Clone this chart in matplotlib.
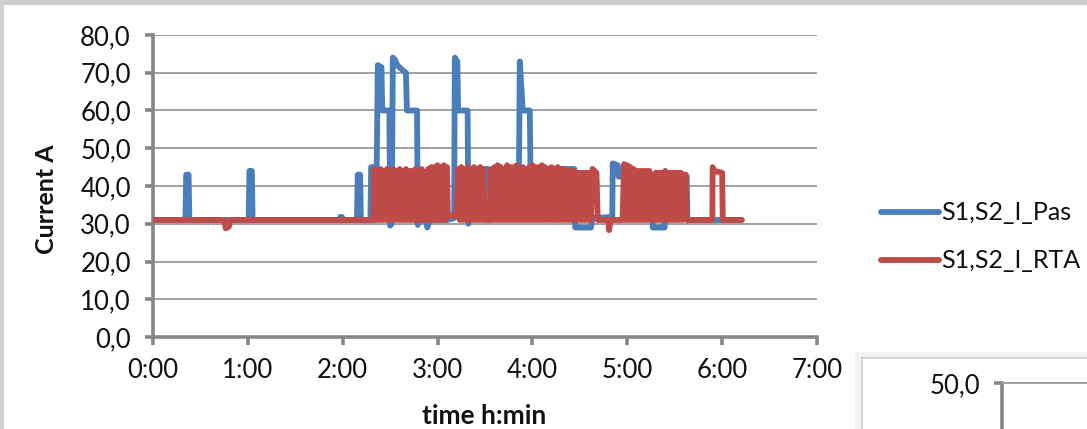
import matplotlib
matplotlib.use('Agg')
import matplotlib.pyplot as plt
from matplotlib.patches import Rectangle
from matplotlib.ticker import FuncFormatter

plt.rcParams['font.family'] = ['Lato', 'DejaVu Sans']

# time in minutes since start, current in A
pas_min = [0, 20.5, 21, 22.5, 23, 60.5, 61, 62.5, 63, 118,
           118.5, 119.5, 120, 129, 129.5, 131, 131.5, 137.5, 138, 141.5,
           142.2, 144.5, 145, 149.5, 150, 151, 151.7, 153, 154.5, 157,
           160, 160.6, 167, 167.5, 169, 172.5, 173.5, 175, 186, 190.5,
           190.9, 192.5, 193, 199, 199.5, 200.4, 212, 212.5, 214.5, 215,
           231.5, 232, 233.9, 238.3, 238.8, 266.5, 267, 277, 278, 290.5,
           290.8, 294, 294.5, 315.8, 316.1, 323.7, 324, 337.6, 338, 372.4]
pas_amp = [31, 31, 43, 43, 31, 31, 44, 44, 31, 31,
           31.8, 31.8, 31, 31, 43, 43, 31, 31, 45, 45,
           72, 71.5, 60, 60, 29.5, 30, 74, 73.5, 72, 71,
           70, 60, 60, 29.7, 31, 31, 29, 31, 31, 31.5,
           74, 73, 60, 60, 30, 44.5, 44.5, 41, 31, 44.5,
           44.5, 73, 60, 60, 44.5, 44.5, 29, 29, 31.5, 31.8,
           46, 45.5, 42.5, 42.5, 29, 29, 42.5, 42.5, 31, 31]

rta_min = [0, 45, 46, 48, 49, 139.5,
           140, 141, 142, 143, 144, 145, 146, 147, 148, 149,
           150, 151, 152, 153, 154, 155, 156, 157, 158, 159,
           160, 161, 162, 163, 164, 165, 166, 167, 168, 169,
           170, 171, 172, 173, 174, 175, 176, 177, 178, 179,
           180, 181, 182, 183, 184, 185, 186, 186.5, 190, 192,
           193, 194, 195, 196, 197, 198, 199, 200, 201, 202,
           203, 204, 205, 206, 207, 208, 209, 210, 211, 212,
           213, 214, 215, 216, 217, 218, 219, 220, 221, 222,
           223, 224, 225, 226, 227, 228, 229, 230, 231, 232,
           233, 234, 235, 236, 237, 238, 239, 240, 241, 242,
           243, 244, 245, 246, 247, 248, 249, 250, 251, 252,
           253, 254, 255, 256, 257, 258, 259, 260, 261, 262,
           263, 264, 265, 266, 267, 268, 269, 270, 271, 272,
           273, 274, 275, 276, 277, 278, 280.5, 281.3, 288, 288.5,
           289.5, 297,
           298, 299, 300, 301, 302, 303, 304, 305, 306, 307,
           308, 309, 310, 311, 312, 313, 314, 315, 316, 317,
           318, 319, 320, 321, 322, 323, 324, 325, 326, 327,
           328, 329, 330, 331, 332, 333, 334, 335, 336, 337,
           337.6, 353.8, 354, 355, 360, 360.4, 372.4]
rta_amp = [31, 31, 28.8, 29.2, 31, 31,
           44.5, 31, 44, 31, 44.5, 31, 44, 31, 44.5, 31,
           31, 31, 44.5, 31, 44, 31, 44.5, 31, 44, 31,
           44.5, 31, 44, 31, 44, 31, 44.5, 31, 44, 31,
           44.5, 31, 31, 31, 44.5, 31, 45, 31, 45, 31,
           45.5, 31, 45, 31, 45.5, 31, 45, 32, 32.3, 32,
           44.5, 31, 45, 31, 44.5, 31, 45, 31, 44.5, 31,
           45, 31, 44.5, 31, 45, 31, 44.5, 31, 31, 31,
           31, 44.5, 31, 45, 31, 45.5, 31, 45, 31, 44.5,
           31, 45.5, 31, 45, 31, 45, 31, 45.5, 31, 44.5,
           31, 45, 31, 44.5, 31, 45, 31, 45.5, 31, 45,
           31, 45, 31, 45.5, 31, 45, 31, 44.5, 31, 45,
           31, 44.5, 31, 45, 31, 44.5, 31, 44.5, 31, 44,
           31, 44, 31, 44, 31, 43.5, 31, 43.5, 31, 43.5,
           31, 43.5, 31, 43.5, 31, 44.5, 43.5, 31, 31, 28.3,
           31, 31,
           45.8, 31, 45.5, 31, 45, 31, 44.5, 31, 44, 31,
           44, 31, 44, 31, 44, 31, 44, 31, 42.5, 31,
           43.5, 31, 43.5, 31, 43.5, 31, 44, 31, 43.5, 31,
           43.5, 31, 43.5, 31, 43.5, 31, 43.5, 31, 43, 43,
           31, 31, 45, 44, 43.5, 31, 31]

x_ticks = [0, 60, 120, 180, 240, 300, 360, 420]
x_labels = ['0:00', '1:00', '2:00', '3:00', '4:00', '5:00', '6:00', '7:00']
y_ticks = [0, 10, 20, 30, 40, 50, 60, 70, 80]
series_names = ['S1,S2_I_Pas', 'S1,S2_I_RTA']

W, H = 1087, 429
AXIS_GREY = '#868686'
BLUE = '#4A7EBB'
RED = '#BE4B48'
TXT = '#111111'


def fx(px):
    return px / W


def fy(py):
    return 1 - py / H


comma = FuncFormatter(lambda v, pos: f'{v:.1f}'.replace('.', ','))

fig = plt.figure(figsize=(W / 100, H / 100), dpi=100)
fig.patch.set_facecolor('white')

# screenshot edges
fig.add_artist(Rectangle((0, fy(5)), 1, 1 - fy(5), transform=fig.transFigure,
                         facecolor='#cdcdcd', edgecolor='none', zorder=0))
fig.add_artist(Rectangle((0, 0), fx(4), 1, transform=fig.transFigure,
                         facecolor='#d2d2d2', edgecolor='none', zorder=0))
# neighbouring chart frame (bottom right)
fig.add_artist(Rectangle((fx(855), 0), 1, fy(352), transform=fig.transFigure,
                         facecolor='#f3f3f3', edgecolor='none', zorder=0))
fig.add_artist(Rectangle((fx(862), -0.05), 1, fy(358) + 0.05, transform=fig.transFigure,
                         facecolor='white', edgecolor='#d4d4d4', lw=1.5, zorder=0))

ax = fig.add_axes([fx(153), fy(337), fx(817) - fx(153), fy(35) - fy(337)])
ax.plot(pas_min, pas_amp, color=BLUE, lw=4.2, solid_joinstyle='round',
        solid_capstyle='round', label=series_names[0], zorder=3)
ax.plot(rta_min, rta_amp, color=RED, lw=4.2, solid_joinstyle='round',
        solid_capstyle='round', label=series_names[1], zorder=4)

ax.set_xlim(0, 420)
ax.set_ylim(0, 80)
ax.set_xticks(x_ticks)
ax.set_xticklabels(x_labels)
ax.set_yticks(y_ticks)
ax.yaxis.set_major_formatter(comma)
ax.grid(True, axis='y', color='#a0a0a0', lw=1.4, zorder=1)
ax.set_axisbelow(True)
for s in ['top', 'right']:
    ax.spines[s].set_visible(False)
for s in ['left', 'bottom']:
    ax.spines[s].set_color(AXIS_GREY)
    ax.spines[s].set_linewidth(2.6)
ax.tick_params(axis='both', length=6, width=2.6, color=AXIS_GREY,
               labelsize=18.5, labelcolor=TXT)
ax.tick_params(axis='x', pad=9)
ax.tick_params(axis='y', pad=10)

fig.text(fx(46), fy(199), 'Current A', rotation=90, ha='center', va='center',
         fontsize=18, fontweight='bold', color=TXT)
fig.text(fx(484), fy(416), 'time h:min', ha='center', va='center',
         fontsize=19, fontweight='bold', color=TXT)

fig.legend(loc='center left', bbox_to_anchor=(fx(881), fy(237)), frameon=False,
           fontsize=18, handlelength=2.3, handletextpad=0.1, labelspacing=1.0,
           borderpad=0, borderaxespad=0, labelcolor=TXT)

# partial second chart at the bottom right
ax2 = fig.add_axes([fx(1002), 0, 1 - fx(1002), fy(383)])
ax2.set_ylim(45, 50)
ax2.set_xlim(0, 1)
ax2.set_yticks([50])
ax2.yaxis.set_major_formatter(comma)
ax2.set_xticks([])
ax2.patch.set_alpha(0)
for s in ['right', 'bottom']:
    ax2.spines[s].set_visible(False)
ax2.spines['top'].set_color('#a0a0a0')
ax2.spines['top'].set_linewidth(1.4)
ax2.spines['left'].set_color(AXIS_GREY)
ax2.spines['left'].set_linewidth(2.6)
ax2.tick_params(axis='y', length=6, width=2.6, color=AXIS_GREY, labelsize=18.5,
                labelcolor=TXT, pad=10)

fig.savefig('out.png', dpi=100)
